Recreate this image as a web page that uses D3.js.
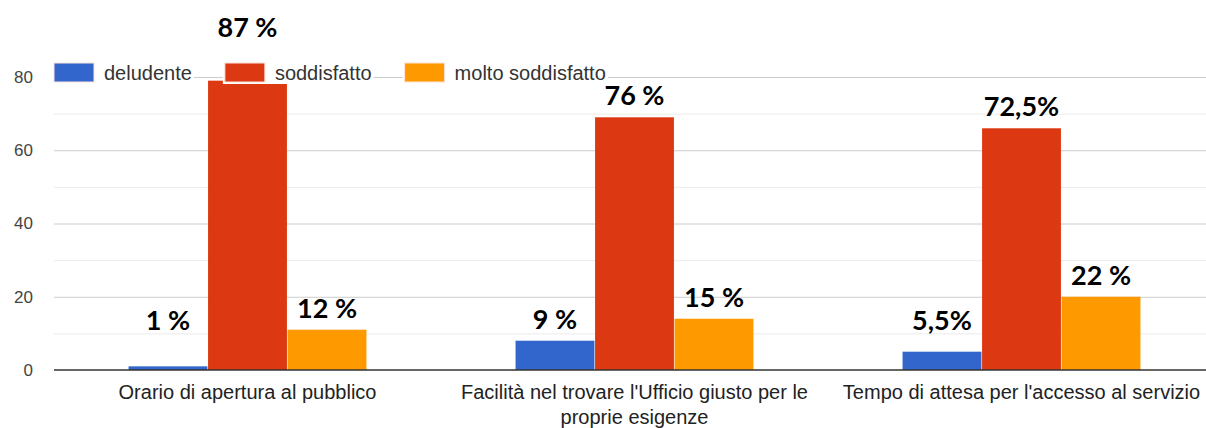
<!DOCTYPE html>
<html>
<head>
<meta charset="utf-8">
<script src="https://cdn.jsdelivr.net/npm/d3@7"></script>
<style>
  body { margin: 0; background: #fff; }
  svg { display: block; }
</style>
</head>
<body>
<svg id="chart" width="1206" height="428"></svg>
<script>
// Survey results: number of answers per rating, with the share of respondents annotated
const categories = [
  "Orario di apertura al pubblico",
  "Facilità nel trovare l'Ufficio giusto per le proprie esigenze",
  "Tempo di attesa per l'accesso al servizio"
];
const seriesNames = ["deludente", "soddisfatto", "molto soddisfatto"];
const deludente = [1, 8, 5];
const soddisfatto = [79, 69, 66];
const moltoSoddisfatto = [11, 14, 20];
const deludenteLabels = ["1 %", "9 %", "5,5%"];
const soddisfattoLabels = ["87 %", "76 %", "72,5%"];
const moltoSoddisfattoLabels = ["12 %", "15 %", "22 %"];
const yTicks = [0, 20, 40, 60, 80];
const colors = ["#3366cc", "#dc3912", "#ff9900"];

const seriesValues = [deludente, soddisfatto, moltoSoddisfatto];
const seriesLabels = [deludenteLabels, soddisfattoLabels, moltoSoddisfattoLabels];

const svg = d3.select("#chart");
const area = { left: 54, right: 1215, top: 77, bottom: 370 };

const x0 = d3.scaleBand()
  .domain(categories)
  .range([area.left, area.right])
  .paddingInner(0.382)
  .paddingOuter(0.191);

const x1 = d3.scaleBand()
  .domain(seriesNames)
  .range([0, x0.bandwidth()])
  .padding(0.008);

const y = d3.scaleLinear().domain([0, 80]).range([area.bottom, area.top]);
const color = d3.scaleOrdinal().domain(seriesNames).range(colors);

const font = "Arial, 'Liberation Sans', sans-serif";

// minor gridlines
svg.append("g")
  .attr("transform", `translate(${area.left},0)`)
  .call(d3.axisLeft(y).tickValues(d3.range(10, 80, 20)).tickSize(-(area.right - area.left)).tickFormat(""))
  .call(g => g.select(".domain").remove())
  .call(g => g.selectAll("line").attr("stroke", "#ebebeb"));

// major gridlines
svg.append("g")
  .attr("transform", `translate(${area.left},0)`)
  .call(d3.axisLeft(y).tickValues(yTicks.filter(d => d > 0)).tickSize(-(area.right - area.left)).tickFormat(""))
  .call(g => g.select(".domain").remove())
  .call(g => g.selectAll("line").attr("stroke", "#cccccc"));

// y tick labels
svg.append("g")
  .attr("transform", `translate(${area.left},0)`)
  .call(d3.axisLeft(y).tickValues(yTicks).tickSize(0).tickPadding(21))
  .call(g => g.select(".domain").remove())
  .call(g => g.selectAll("text")
    .attr("font-family", font).attr("font-size", 17).attr("fill", "#444"));

// bars
const rows = categories.map((c, i) => ({
  cat: c,
  items: seriesNames.map((s, k) => ({ key: s, value: seriesValues[k][i], label: seriesLabels[k][i] }))
}));

const groups = svg.append("g").selectAll("g")
  .data(rows).join("g")
  .attr("transform", d => `translate(${x0(d.cat)},0)`);

groups.selectAll("rect")
  .data(d => d.items).join("rect")
  .attr("x", d => x1(d.key))
  .attr("width", x1.bandwidth())
  .attr("y", d => y(d.value))
  .attr("height", d => y(0) - y(d.value))
  .attr("fill", d => color(d.key));

// baseline
svg.append("line")
  .attr("x1", area.left).attr("x2", area.right)
  .attr("y1", y(0)).attr("y2", y(0))
  .attr("stroke", "#333").attr("stroke-width", 1.5);

// category axis
const xAxis = svg.append("g")
  .attr("transform", `translate(0,${area.bottom})`)
  .call(d3.axisBottom(x0).tickSize(0).tickPadding(15))
  .call(g => g.select(".domain").remove());

xAxis.selectAll("text")
  .attr("font-family", font).attr("font-size", 20).attr("fill", "#222")
  .each(function () { wrap(d3.select(this), x0.step() - 20); });

function wrap(text, width) {
  const words = text.text().split(/\s+/);
  const yAttr = text.attr("y");
  const dy = parseFloat(text.attr("dy")) || 0;
  text.text(null);
  let line = [];
  let lineNo = 0;
  let tspan = text.append("tspan").attr("x", 0).attr("y", yAttr).attr("dy", dy + "em");
  for (const w of words) {
    line.push(w);
    tspan.text(line.join(" "));
    if (tspan.node().getComputedTextLength() > width && line.length > 1) {
      line.pop();
      tspan.text(line.join(" "));
      line = [w];
      lineNo++;
      tspan = text.append("tspan").attr("x", 0).attr("y", yAttr)
        .attr("dy", (dy + lineNo * 1.25) + "em").text(w);
    }
  }
}

// legend, drawn over the top gridline
const legend = { x: area.left, top: 63, h: 19, sw: 40, gap: 10, spacing: 33 };
const lg = svg.append("g");
let lx = legend.x;
seriesNames.forEach(name => {
  const item = lg.append("g");
  const t = item.append("text")
    .attr("x", lx + legend.sw + legend.gap)
    .attr("y", legend.top + legend.h / 2)
    .attr("dy", "0.35em")
    .attr("font-family", font).attr("font-size", 20).attr("fill", "#333")
    .text(name);
  const tw = t.node().getComputedTextLength();
  item.insert("rect", "text")
    .attr("x", lx - 2).attr("y", legend.top - 2)
    .attr("width", legend.sw + legend.gap + tw + 4).attr("height", legend.h + 4)
    .attr("fill", "#fff");
  item.insert("rect", "text")
    .attr("x", lx).attr("y", legend.top)
    .attr("width", legend.sw).attr("height", legend.h)
    .attr("fill", color(name))
    .attr("stroke", "#fbe3dc").attr("stroke-width", 1);
  lx += legend.sw + legend.gap + tw + legend.spacing;
});
const legendRight = lx;
const legendBottom = legend.top + legend.h;

// percentage annotations
const labelSize = 27;
groups.selectAll("text.pct")
  .data(d => d.items.map(it => ({ ...it, cat: d.cat }))).join("text")
  .attr("class", "pct")
  .attr("text-anchor", "middle")
  .attr("font-family", "Lato, 'Open Sans', sans-serif")
  .attr("font-weight", 700)
  .attr("font-size", labelSize)
  .attr("fill", "#000")
  .attr("x", d => x1(d.key) + x1.bandwidth() / 2)
  .attr("y", d => {
    let base = Math.min(y(d.value) - 12, y(0) - 40);
    const cx = x0(d.cat) + x1(d.key) + x1.bandwidth() / 2;
    const overlapsLegend = cx < legendRight && base > legend.top - 4 && base - labelSize * 0.72 < legendBottom;
    if (overlapsLegend) base = legend.top - 26;
    return base;
  })
  .text(d => d.label);
</script>
</body>
</html>
